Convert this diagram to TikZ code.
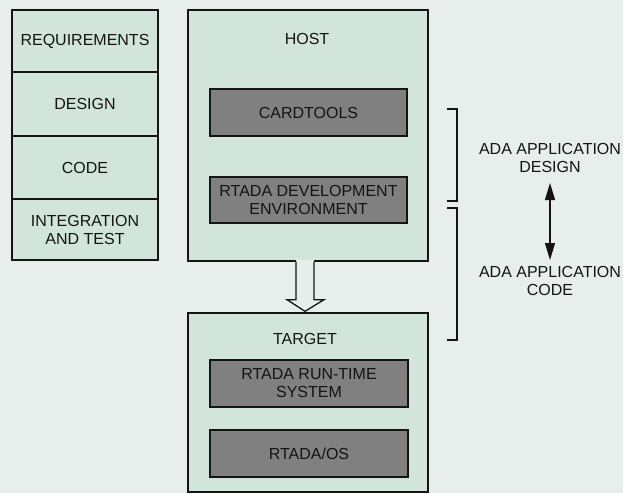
\documentclass[tikz,border=0pt]{standalone}
\usepackage{fontspec}
\setmainfont{Liberation Sans}
\usetikzlibrary{arrows.meta,calc}
\definecolor{bgc}{RGB}{232,238,236}
\definecolor{boxc}{RGB}{210,229,219}
\definecolor{grayc}{RGB}{128,128,128}
\definecolor{arrc}{RGB}{228,238,234}
\definecolor{inkc}{RGB}{20,20,20}
\tikzset{
  txt/.style={font=\fontsize{16}{18}\selectfont, text=inkc, align=center},
  lbl/.style={txt, inner sep=0pt},
  phase/.style={txt, draw=inkc, line width=1.3pt, fill=boxc, minimum width=146pt, inner sep=0pt},
  outer/.style={draw=inkc, line width=1.3pt, fill=boxc, inner sep=0pt},
  inner/.style={txt, draw=inkc, line width=1.3pt, fill=grayc, minimum width=198pt, minimum height=47pt, inner sep=0pt},
  brk/.style={draw=inkc, line width=1.1pt},
  dbl/.style={draw=inkc, line width=1.4pt, {Triangle[width=10pt,length=17pt]}-{Triangle[width=10pt,length=17pt]}}
}
\begin{document}
\begin{tikzpicture}[x=1pt,y=-1pt]
\fill[bgc] (0,0) rectangle (623,493);
\useasboundingbox (0,0) rectangle (623,493);
% left column
\node[phase, minimum height=62pt] (req) at (85,41) {REQUIREMENTS};
\node[phase, minimum height=64pt] (des) at (85,104) {DESIGN};
\node[phase, minimum height=63pt] (cod) at (85,167.5) {CODE};
\node[phase, minimum height=61pt] (int) at (85,229.5) {INTEGRATION\\AND TEST};
% host
\node[outer, minimum width=240pt, minimum height=251pt] (host) at (308,135.5) {};
\node[lbl] (hostl) at (307,39) {HOST};
\node[inner, minimum width=197pt] (card) at (308.5,112.5) {CARDTOOLS};
\node[inner, minimum width=197pt, minimum height=46pt] (rdev) at (308.5,200) {RTADA DEVELOPMENT\\ENVIRONMENT};
% target
\node[outer, minimum width=240pt, minimum height=179pt] (target) at (308,402.5) {};
\node[lbl] (targetl) at (305,339) {TARGET};
\node[inner] (rts) at (309,383.5) {RTADA RUN-TIME\\SYSTEM};
\node[inner] (ros) at (309,453.5) {RTADA/OS};
% hollow arrow host -> target
\coordinate (atop) at ($(host.south)+(-3,0)$);
\coordinate (atip) at ($(target.north)+(-3,-1)$);
\fill[arrc] ($(atop)+(-9,-2)$) -- ($(atop)+(-9,38)$) -- ($(atop)+(-18,38)$) -- (atip) -- ($(atop)+(19,38)$) -- ($(atop)+(9,38)$) -- ($(atop)+(9,-2)$) -- cycle;
\draw[draw=inkc, line width=1.3pt, line join=miter] ($(atop)+(-9,0)$) -- ($(atop)+(-9,38)$) -- ($(atop)+(-18,38)$) -- (atip) -- ($(atop)+(19,38)$) -- ($(atop)+(9,38)$) -- ($(atop)+(9,0)$);
% brackets
\coordinate (b1a) at (447,109);
\coordinate (b1b) at (447,201);
\coordinate (b2a) at (447,208);
\coordinate (b2b) at (447,340);
\draw[brk] (b1a) -- ++(10,0) |- (b1b);
\draw[brk] (b2a) -- ++(10,0) |- (b2b);
% right labels
\node[lbl] (desl) at (550,158) {ADA APPLICATION\\DESIGN};
\node[lbl] (codl) at (550,281) {ADA APPLICATION\\CODE};
\coordinate (dtop) at (550,183);
\coordinate (dbot) at (550,260);
\draw[dbl] (dtop) -- (dbot);
\end{tikzpicture}
\end{document}
